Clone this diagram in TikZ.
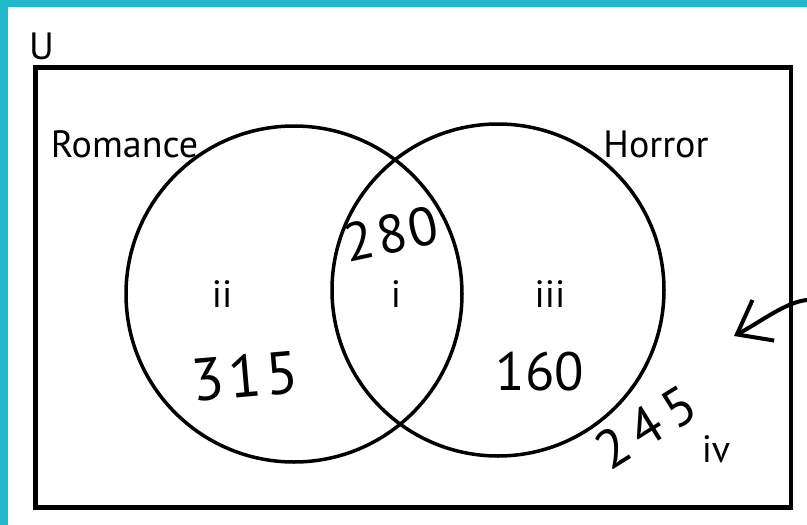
\documentclass[tikz,border=0pt]{standalone}
\usepackage{fontspec}
\setmainfont{PT Sans}
\usepackage{tikz}
\usetikzlibrary{arrows.meta,positioning}
\definecolor{frameteal}{RGB}{36,184,204}

\begin{document}
\begin{tikzpicture}[x=1pt,y=-1pt,>=Stealth,
    setlabel/.style={anchor=base,inner sep=0pt,font=\fontsize{38}{44}\selectfont},
    regionlabel/.style={anchor=base,inner sep=0pt,font=\fontsize{38}{44}\selectfont},
    handcount/.style={inner sep=0pt,font=\fontsize{54}{60}\selectfont},
    setcircle/.style={draw,circle,line width=3.5pt,inner sep=0pt}]
  \useasboundingbox (0,0) rectangle (807,525);
  \fill[white] (0,0) rectangle (807,525);

  % frame strips
  \fill[frameteal] (0,0) rectangle (807,7);
  \fill[frameteal] (0,0) rectangle (8,525);

  % Universe
  \node[draw,line width=4.5pt,minimum width=755.5pt,minimum height=440pt,inner sep=0pt]
    (U) at (413.25,287.5) {};
  \node[setlabel] (Ulabel) at (41.5,59) {U};

  % Romance
  \node[setcircle,minimum size=336pt] (R) at (294,294) {};
  \node[setlabel] (Rlabel) at (124.5,157) {Romance};

  % Horror
  \node[setcircle,minimum size=332pt] (H) at (498,290) {};
  \node[setlabel] (Hlabel) at (656,157) {Horror};

  % Regions
  \node[regionlabel] (ri) at (396,307) {i};
  \node[regionlabel] (rii) at (222,307) {ii};
  \node[regionlabel] (riii) at (550,307) {iii};
  \node[regionlabel] (riv) at (716,462) {iv};

  % Counts
  \node[handcount,rotate=12] (n280) at (391,234) {2\kern4pt8\kern3pt0};
  \node[handcount,rotate=5,font=\fontsize{60}{66}\selectfont] (n315) at (245,376) {3\kern4pt1\kern4pt5};
  \node[handcount] (n160) at (540,372) {160};
  \node[handcount,rotate=32] (n245) at (646,427) {2\kern9pt4\kern9pt5};

  % Arrow
  \coordinate (arrowfrom) at (807,300);
  \coordinate (arrowto) at (734,336);
  \draw[-{Straight Barb[length=30pt,width=46pt,line width=4pt]},line width=4pt,line cap=round]
    (arrowfrom) .. controls (786,302) and (762,321) .. (arrowto);
\end{tikzpicture}
\end{document}
